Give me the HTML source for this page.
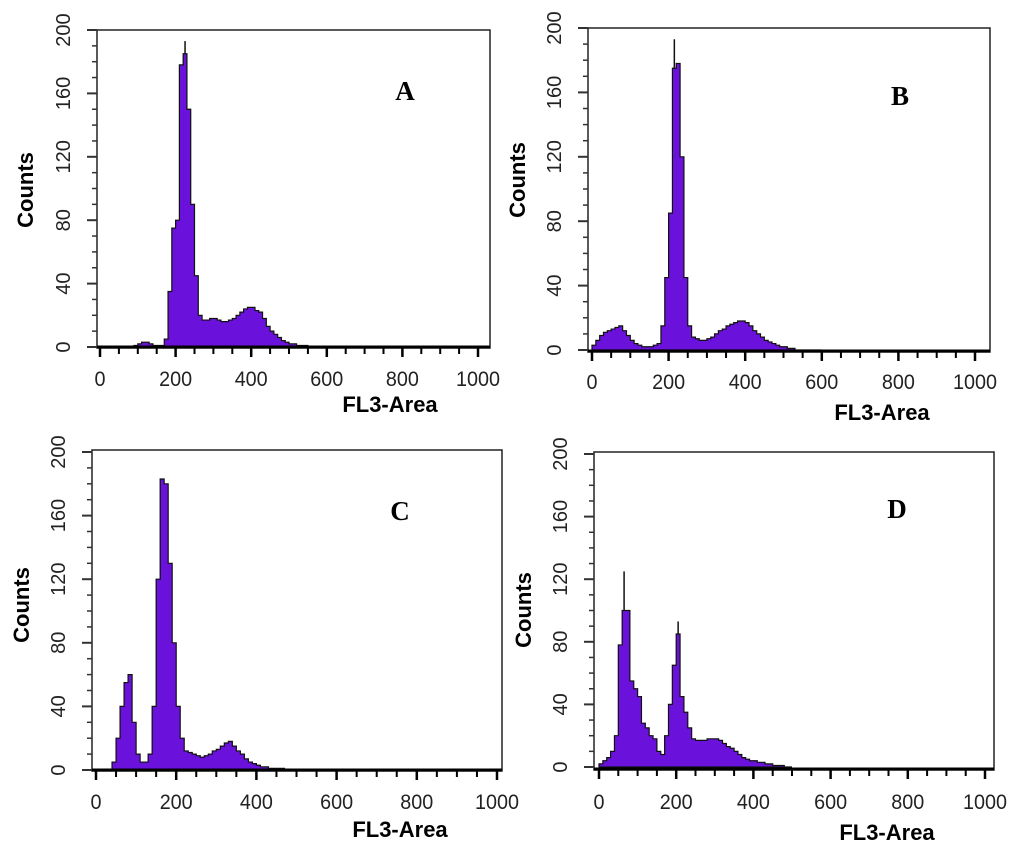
<!DOCTYPE html>
<html><head><meta charset="utf-8">
<style>
html,body{margin:0;padding:0;background:#fff;}
svg{display:block;}
</style></head>
<body>
<svg id="fig" width="1024" height="849" viewBox="0 0 1024 849" xmlns="http://www.w3.org/2000/svg" style="font-family:'Liberation Sans',sans-serif"></svg>
<script>
// bins of 10 FL3-Area units starting at 0
const binWidth = 10;
const xTicks = [0,200,400,600,800,1000];
const yTicks = [0,40,80,120,160,200];
const countsA = [0,0,0,0,0,0,0,0,0,1, 2,3,3,2,1,1,1,5,35,75, 80,178,185,150,90,45,20,17,17,18, 18,17,16,16,17,18,20,22,24,25, 25,23,22,18,13,10,8,6,4,3, 2,2,1,1,1,0,0,0,0,0];
const countsB = [3,6,9,11,12,13,14,15,12,9, 6,4,3,2,2,2,3,4,15,45, 85,175,178,120,45,15,8,7,6,6, 7,8,10,12,13,15,16,17,18,18, 17,15,12,10,8,6,5,4,3,2, 2,1,1,0,0,0,0,0,0,0];
const countsC = [0,0,0,0,5,20,40,55,60,30, 10,5,5,10,40,120,183,180,130,80, 40,20,12,11,10,9,8,9,10,12, 13,15,17,18,15,12,10,7,5,4, 3,2,2,1,1,1,1,0,0,0];
const countsD = [2,4,6,10,20,78,100,100,55,50, 45,28,25,20,18,10,8,20,40,65, 85,45,35,25,18,17,17,17,18,18, 18,17,15,13,12,10,8,6,5,4, 4,3,3,2,2,1,1,1,0,0];
const spikesA = [[225,193]];
const spikesB = [[215,193]];
const spikesC = [];
const spikesD = [[65,125],[205,93]];

const NS="http://www.w3.org/2000/svg";
const svg=document.getElementById('fig');
function mk(tag,attrs,parent){const e=document.createElementNS(NS,tag);for(const k in attrs)e.setAttribute(k,attrs[k]);(parent||svg).appendChild(e);return e;}

const panels=[
 {id:'a',letter:'A',counts:countsA,spikes:spikesA,box:[97,30,490,348],x0:100,x1:478,y0:347,y1:30,lx:405,ly:100,cx:32,cy:190,fx:390,fy:412,ty:386},
 {id:'b',letter:'B',counts:countsB,spikes:spikesB,box:[588,28,990,352],x0:592,x1:975,y0:350,y1:28,lx:900,ly:105,cx:524,cy:180,fx:882,fy:420,ty:389},
 {id:'c',letter:'C',counts:countsC,spikes:spikesC,box:[92,450,502,771],x0:96,x1:497,y0:770,y1:452,lx:400,ly:520,cx:28,cy:605,fx:400,fy:837,ty:809},
 {id:'d',letter:'D',counts:countsD,spikes:spikesD,box:[594,452,994,770],x0:599,x1:985,y0:767,y1:454,lx:897,ly:518,cx:530,cy:610,fx:887,fy:840,ty:809}
];

panels.forEach(p=>{
 const g=mk('g',{});
 
 
 const xs=v=>p.x0+(p.x1-p.x0)*v/1000;
 const ys=v=>p.y0-(p.y0-p.y1)*v/200;
 const [L,T,R,B]=p.box;
 const frame=mk('rect',{x:L,y:T,width:R-L,height:B-T,fill:'#fff',stroke:'#222','stroke-width':1.5},g);
 
 
 let d='M'+xs(0)+','+ys(0);
 p.counts.forEach((c,i)=>{d+=' L'+xs(i*binWidth)+','+ys(c)+' L'+xs((i+1)*binWidth)+','+ys(c);});
 d+=' L'+xs(p.counts.length*binWidth)+','+ys(0)+' Z';
 const h=mk('path',{d:d,fill:'#6a12dc',stroke:'#111','stroke-width':1.2},g);
 
 
 p.spikes.forEach(s=>{
  const base=p.counts[Math.floor(s[0]/binWidth)]||0;
  const sp=mk('line',{x1:xs(s[0]),x2:xs(s[0]),y1:ys(base),y2:ys(s[1]),stroke:'#111','stroke-width':1.5},g);
  
  
 });
 const ax=mk('line',{x1:L,x2:R,y1:B-1,y2:B-1,stroke:'#000','stroke-width':3},g);
 
 
 for(let v=0;v<=1000;v+=50){
  const major=v%200===0;
  mk('line',{x1:xs(v),x2:xs(v),y1:B,y2:B+(major?9:6),stroke:'#000','stroke-width':major?2.5:2},g);
 }
 for(let v=0;v<=200;v+=10){
  const major=v%40===0;
  mk('line',{x1:L,x2:L-(major?10:5),y1:ys(v),y2:ys(v),stroke:'#333','stroke-width':major?2:1.5},g);
 }
 xTicks.forEach(v=>{
  const t=mk('text',{x:xs(v),y:p.ty,'font-size':21,'text-anchor':'middle',fill:'#222',textLength:String(v).length*11,lengthAdjust:'spacingAndGlyphs'},g);
  t.textContent=v;
  
  
 });
 yTicks.forEach(v=>{
  const t=mk('text',{x:0,y:0,'font-size':20,'text-anchor':'middle',fill:'#222',transform:'translate('+(L-27)+','+ys(v)+') rotate(-90)'},g);
  t.textContent=v;
  
  
 });
 const yl=mk('text',{x:0,y:0,'font-size':22,'font-weight':'bold','text-anchor':'middle',fill:'#000',transform:'translate('+(p.cx+1)+','+p.cy+') rotate(-90)'},g);
 yl.textContent='Counts';
 
 
 const xl=mk('text',{x:p.fx,y:p.fy,'font-size':22,'font-weight':'bold','text-anchor':'middle',fill:'#000'},g);
 xl.textContent='FL3-Area';
 
 
 const le=mk('text',{x:p.lx,y:p.ly,'font-size':27,'font-weight':'bold','text-anchor':'middle',fill:'#000',style:"font-family:'Liberation Serif',serif"},g);
 le.textContent=p.letter;
 
 
});
</script>
</body></html>
